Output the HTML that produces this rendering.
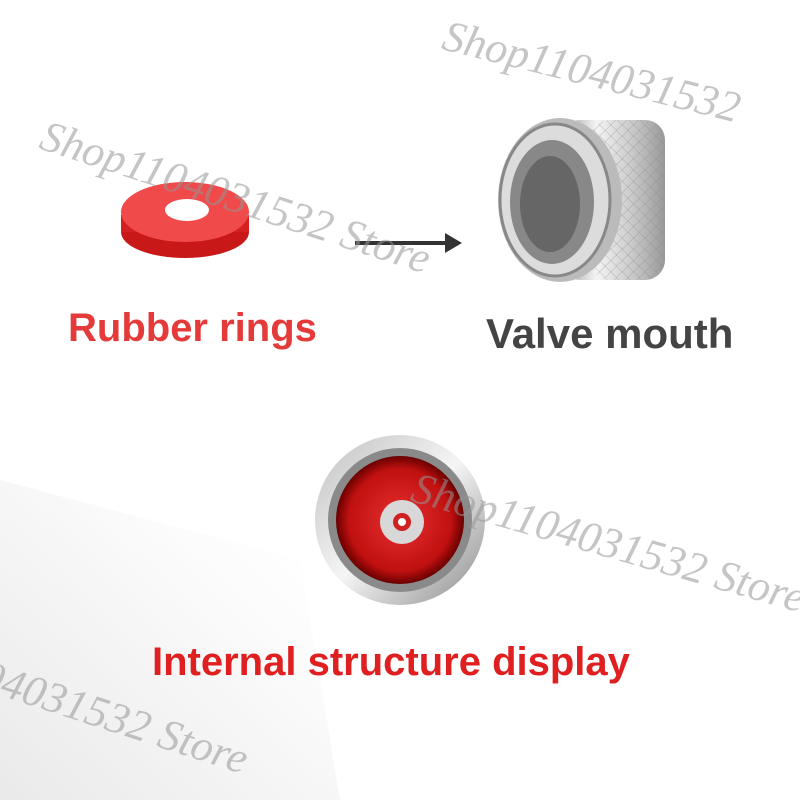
<!DOCTYPE html>
<html><head><meta charset="utf-8"><style>
html,body{margin:0;padding:0;background:#fff;}
#c{position:relative;width:800px;height:800px;overflow:hidden;background:#fff;font-family:"Liberation Sans",sans-serif;}
.t{position:absolute;white-space:nowrap;font-weight:bold;}
.wm{position:absolute;font-family:"Liberation Serif",serif;font-style:italic;color:rgba(150,150,150,0.55);white-space:nowrap;font-size:44px;transform-origin:left top;}
</style></head><body><div id="c">
<svg width="800" height="800" style="position:absolute;left:0;top:0">
<defs>
<linearGradient id="tire" x1="0" y1="1" x2="1" y2="0">
<stop offset="0" stop-color="#d8d8d8"/><stop offset="0.5" stop-color="#f0f0f0"/><stop offset="1" stop-color="#fff" stop-opacity="0"/></linearGradient>
<linearGradient id="metal" x1="0" y1="0" x2="1" y2="0">
<stop offset="0" stop-color="#9a9a9a"/><stop offset="0.35" stop-color="#f4f4f4"/><stop offset="0.7" stop-color="#c8c8c8"/><stop offset="1" stop-color="#999"/></linearGradient>
<pattern id="knurl" width="8" height="8" patternUnits="userSpaceOnUse" patternTransform="rotate(45)">
<line x1="0" y1="0" x2="0" y2="8" stroke="#888" stroke-width="1" opacity="0.5"/>
<line x1="0" y1="0" x2="8" y2="0" stroke="#888" stroke-width="1" opacity="0.5"/></pattern>
<radialGradient id="red" cx="0.5" cy="0.5" r="0.5">
<stop offset="0" stop-color="#e83030"/><stop offset="0.8" stop-color="#c01010"/><stop offset="1" stop-color="#6a0000"/></radialGradient>
<linearGradient id="ring" x1="0" y1="0" x2="1" y2="1"><stop offset="0" stop-color="#c0c0c0"/><stop offset="0.5" stop-color="#f5f5f5"/><stop offset="1" stop-color="#8a8a8a"/></linearGradient>
</defs>
<g opacity="0.55">
<polygon points="0,480 300,560 340,800 0,800" fill="url(#tire)"/>
</g>
<ellipse cx="185" cy="232" rx="64" ry="26" fill="#c91818"/>
<rect x="121" y="215" width="128" height="17" fill="#d42020"/>
<ellipse cx="185" cy="212" rx="64" ry="30" fill="#f04a4a"/>
<ellipse cx="187" cy="210" rx="22" ry="11" fill="#fff"/>
<line x1="355" y1="243" x2="448" y2="243" stroke="#333" stroke-width="4"/>
<polygon points="445,233 462,243 445,253" fill="#333"/>
<rect x="560" y="120" width="105" height="160" rx="20" fill="url(#metal)"/>
<rect x="590" y="120" width="75" height="160" rx="20" fill="url(#knurl)"/>
<ellipse cx="560" cy="200" rx="62" ry="82" fill="#bbb"/>
<ellipse cx="555" cy="200" rx="55" ry="76" fill="#dcdcdc" stroke="#888" stroke-width="3"/>
<ellipse cx="552" cy="202" rx="42" ry="62" fill="#888"/>
<ellipse cx="550" cy="204" rx="30" ry="48" fill="#666"/>
<circle cx="400" cy="520" r="85" fill="url(#ring)"/>
<circle cx="400" cy="520" r="72" fill="#8a8a8a"/>
<circle cx="400" cy="520" r="64" fill="url(#red)"/>
<circle cx="402" cy="522" r="22" fill="#d8d8d8"/>
<circle cx="402" cy="522" r="9" fill="#d02020"/>
<circle cx="402" cy="522" r="4" fill="#fff"/>
</svg>
<div class="t" style="left:68px;top:306px;font-size:40px;color:#e53a3a;">Rubber rings</div>
<div class="t" style="left:486px;top:310px;font-size:42px;color:#444;">Valve mouth</div>
<div class="t" style="left:152px;top:640px;font-size:40px;color:#e02020;">Internal structure display</div>
<div class="wm" style="left:450px;top:10px;transform:rotate(14deg);">Shop1104031532</div>
<div class="wm" style="left:50px;top:110px;transform:rotate(18deg);">Shop1104031532 Store</div>
<div class="wm" style="left:420px;top:462px;transform:rotate(16deg);">Shop1104031532 Store</div>
<div class="wm" style="left:-10px;top:650px;transform:rotate(18deg);">04031532 Store</div>
</div></body></html>
